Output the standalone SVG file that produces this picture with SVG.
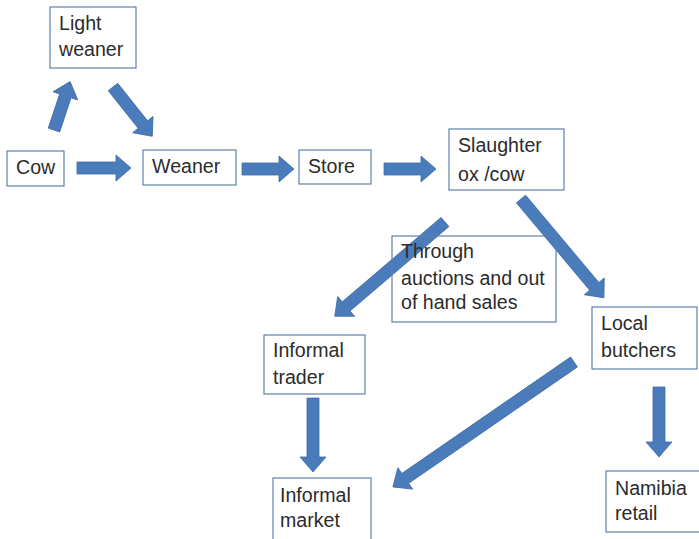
<svg xmlns="http://www.w3.org/2000/svg" width="699" height="539" viewBox="0 0 699 539">
  <style>
    .box { fill: #ffffff; stroke: #5f7fae; stroke-width: 1.2; }
    .open { fill: none; }
    .lbl { font-family: "Liberation Sans", Arial, sans-serif; font-size: 19.6px; fill: #2b2b2b; }
    .arw { fill: #4a7bbb; stroke: #3f6ca6; stroke-width: 0.8; }
  </style>
  <rect width="699" height="539" fill="#ffffff"/>

  <!-- block arrows -->
  <g id="connectors">
    <path class="arw" d="M0,-6 H36 V-13 L51,0 L36,13 V6 H0 Z" transform="translate(54,130) rotate(-71.6)"/>
    <path class="arw" d="M0,-6 H48 V-13 L63,0 L48,13 V6 H0 Z" transform="translate(113,87) rotate(51.5)"/>
    <path class="arw" d="M0,-6 H39 V-13 L54,0 L39,13 V6 H0 Z" transform="translate(77,168)"/>
    <path class="arw" d="M0,-6 H37 V-13 L52,0 L37,13 V6 H0 Z" transform="translate(242,169)"/>
    <path class="arw" d="M0,-6 H37 V-13 L52,0 L37,13 V6 H0 Z" transform="translate(384,169)"/>
    <path class="arw" d="M0,-6 H130 V-13 L145,0 L130,13 V6 H0 Z" transform="translate(445,222) rotate(139.5)"/>
    <path class="arw" d="M0,-6 H114 V-13 L129,0 L114,13 V6 H0 Z" transform="translate(521,199) rotate(50)"/>
    <path class="arw" d="M0,-6 H205 V-13 L220,0 L205,13 V6 H0 Z" transform="translate(574,362) rotate(145.4)"/>
    <path class="arw" d="M0,-6 H59 V-13 L74,0 L59,13 V6 H0 Z" transform="translate(313,398) rotate(90)"/>
    <path class="arw" d="M0,-6 H55 V-13 L70,0 L55,13 V6 H0 Z" transform="translate(659,387) rotate(90)"/>
  </g>

  <g id="light-weaner">
    <rect class="box" x="50" y="7" width="86" height="61"/>
    <text class="lbl" x="59" y="30">Light</text>
    <text class="lbl" x="59" y="56">weaner</text>
  </g>

  <g id="cow">
    <rect class="box" x="7" y="151" width="57" height="35"/>
    <text class="lbl" x="16" y="174">Cow</text>
  </g>

  <g id="weaner">
    <rect class="box" x="143" y="150" width="93" height="35"/>
    <text class="lbl" x="152" y="173">Weaner</text>
  </g>

  <g id="store">
    <rect class="box" x="299" y="150" width="72" height="34"/>
    <text class="lbl" x="308" y="173">Store</text>
  </g>

  <g id="slaughter">
    <rect class="box" x="449" y="129" width="115" height="61"/>
    <text class="lbl" x="458" y="152">Slaughter</text>
    <text class="lbl" x="458" y="181">ox /cow</text>
  </g>

  <g id="sales-note">
    <rect class="box open" x="392" y="236" width="164" height="86"/>
    <text class="lbl" x="401" y="258">Through</text>
    <text class="lbl" x="401" y="285">auctions and out</text>
    <text class="lbl" x="401" y="309">of hand sales</text>
  </g>

  <g id="informal-trader">
    <rect class="box" x="264" y="335" width="101" height="59"/>
    <text class="lbl" x="273" y="357">Informal</text>
    <text class="lbl" x="273" y="384">trader</text>
  </g>

  <g id="local-butchers">
    <rect class="box" x="592" y="307" width="105" height="62"/>
    <text class="lbl" x="601" y="330">Local</text>
    <text class="lbl" x="601" y="357">butchers</text>
  </g>

  <g id="informal-market">
    <rect class="box" x="273" y="478" width="98" height="64"/>
    <text class="lbl" x="280" y="502">Informal</text>
    <text class="lbl" x="280" y="527">market</text>
  </g>

  <g id="namibia-retail">
    <rect class="box" x="606" y="471" width="96" height="61"/>
    <text class="lbl" x="615" y="495">Namibia</text>
    <text class="lbl" x="615" y="520">retail</text>
  </g>
</svg>
